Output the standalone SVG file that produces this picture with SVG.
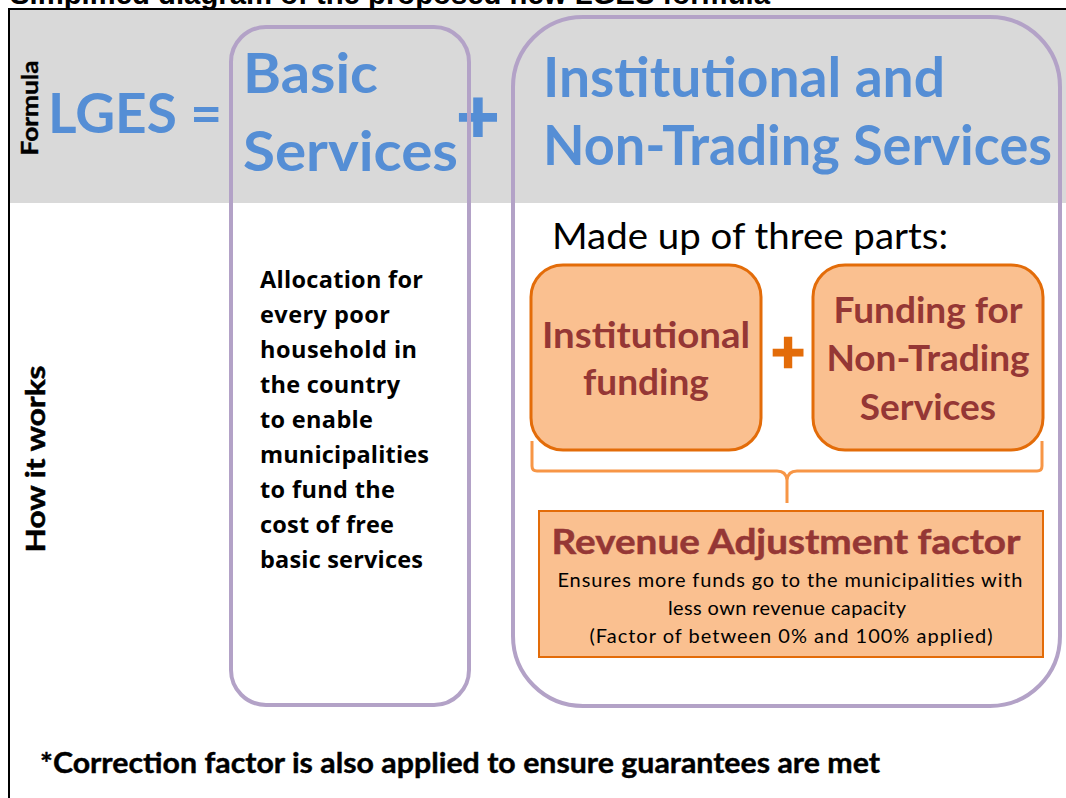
<svg xmlns="http://www.w3.org/2000/svg" width="1066" height="798" viewBox="0 0 1066 798">
<defs>
<style>
.blue{font-family:Lato,"Open Sans",sans-serif;font-weight:bold;fill:#558ed5;}
.red{font-family:Lato,"Open Sans",sans-serif;font-weight:bold;fill:#953735;}
.blk{font-family:Lato,"Open Sans",sans-serif;fill:#000;}
.alloc{font-family:"Open Sans",Lato,sans-serif;font-weight:bold;fill:#000;}
.purple{fill:none;stroke:#b3a2c7;stroke-width:4;}
.obox{fill:#fac090;stroke:#e36c09;stroke-width:3;}
</style>
</defs>
<rect x="0" y="0" width="1066" height="798" fill="#fff"/>
<text x="10" y="4" font-family="Liberation Sans,Arial,sans-serif" font-weight="bold" font-size="29" textLength="760" lengthAdjust="spacingAndGlyphs">Simplified diagram of the proposed new LGES formula</text>
<rect x="10" y="10" width="1056" height="193" fill="#d9d9d9"/>
<line x1="8" y1="9" x2="1066" y2="9" stroke="#000" stroke-width="2"/>
<line x1="9" y1="8" x2="9" y2="798" stroke="#000" stroke-width="2"/>
<g id="labels">
<text class="blk" font-weight="bold" font-size="22" transform="translate(38,108) rotate(-90)" text-anchor="middle" textLength="95" lengthAdjust="spacingAndGlyphs" stroke="#000" stroke-width="0.4">Formula</text>
<text class="blk" font-weight="bold" font-size="27" transform="translate(45,459) rotate(-90)" text-anchor="middle" textLength="187" lengthAdjust="spacingAndGlyphs" stroke="#000" stroke-width="0.5">How it works</text>
</g>
<g id="formula">
<text class="blue" x="48" y="133" font-size="56" textLength="174" lengthAdjust="spacingAndGlyphs">LGES =</text>
<text class="blue" x="478" y="142" font-size="74" text-anchor="middle" stroke="#558ed5" stroke-width="2">+</text>
</g>
<g id="basic-services">
<rect class="purple" x="231" y="27" width="238" height="678" rx="35" ry="35"/>
<text class="blue" x="243" y="93" font-size="56" textLength="135" lengthAdjust="spacingAndGlyphs">Basic</text>
<text class="blue" x="243" y="171" font-size="56" textLength="215" lengthAdjust="spacingAndGlyphs">Services</text>
<g class="alloc" font-size="23.5" lengthAdjust="spacingAndGlyphs">
<text x="260" y="288" textLength="163">Allocation for</text>
<text x="260" y="323" textLength="130">every poor</text>
<text x="260" y="358" textLength="157">household in</text>
<text x="260" y="393" textLength="140">the country</text>
<text x="260" y="428" textLength="113">to enable</text>
<text x="260" y="463" textLength="169">municipalities</text>
<text x="260" y="498" textLength="135">to fund the</text>
<text x="260" y="533" textLength="134">cost of free</text>
<text x="260" y="568" textLength="163">basic services</text>
</g>
</g>
<g id="institutional">
<rect class="purple" x="513" y="17" width="547" height="689" rx="70" ry="70"/>
<text class="blue" x="543" y="97" font-size="56" textLength="402" lengthAdjust="spacingAndGlyphs">Institutional and</text>
<text class="blue" x="543" y="165" font-size="56" textLength="509" lengthAdjust="spacingAndGlyphs">Non-Trading Services</text>
<text class="blk" x="552" y="249" font-size="37" textLength="396" lengthAdjust="spacingAndGlyphs">Made up of three parts:</text>
</g>
<g id="institutional-funding">
<rect class="obox" x="531" y="265" width="230" height="185" rx="32" ry="32"/>
<text class="red" x="646" y="348" font-size="37" text-anchor="middle" textLength="208" lengthAdjust="spacingAndGlyphs">Institutional</text>
<text class="red" x="646" y="395" font-size="37" text-anchor="middle">funding</text>
</g>
<g id="plus-orange">
<text x="788" y="372" font-family="Lato,sans-serif" font-weight="bold" font-size="58" fill="#e36c09" stroke="#e36c09" stroke-width="2.5" text-anchor="middle">+</text>
</g>
<g id="non-trading">
<rect class="obox" x="813" y="265" width="230" height="185" rx="32" ry="32"/>
<text class="red" x="928" y="323" font-size="37" text-anchor="middle">Funding for</text>
<text class="red" x="928" y="371" font-size="37" text-anchor="middle">Non-Trading</text>
<text class="red" x="928" y="420" font-size="37" text-anchor="middle">Services</text>
</g>
<g id="connectors">
<path d="M532,441 V466 Q532,471 537,471 H777 Q786,471 787,480 V503 M787,503 V480 Q788,471 797,471 H1037 Q1042,471 1042,466 V441" fill="none" stroke="#f79646" stroke-width="3"/>
</g>
<g id="revenue">
<rect x="539" y="511" width="504" height="146" fill="#fac090" stroke="#e36c09" stroke-width="2"/>
<text class="red" x="786" y="554" font-size="34" text-anchor="middle" textLength="469" lengthAdjust="spacingAndGlyphs" stroke="#953735" stroke-width="0.5">Revenue Adjustment factor</text>
<g class="blk" font-size="20" text-anchor="middle" lengthAdjust="spacingAndGlyphs">
<text x="790" y="587" textLength="465">Ensures more funds go to the municipalities with</text>
<text x="787" y="615" textLength="238">less own revenue capacity</text>
<text x="791" y="643" textLength="403">(Factor of between 0% and 100%  applied)</text>
</g>
</g>
<g id="footnote">
<text class="blk" x="40" y="773" font-weight="bold" font-size="28" textLength="840" lengthAdjust="spacingAndGlyphs" stroke="#000" stroke-width="0.4">*Correction factor is also applied to ensure guarantees are met</text>
</g>
</svg>
